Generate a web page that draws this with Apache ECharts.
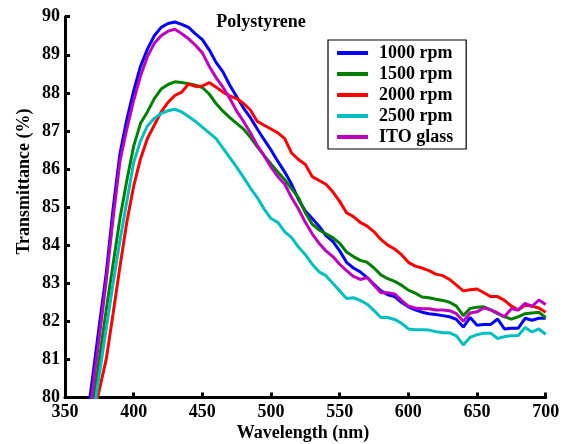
<!DOCTYPE html>
<html>
<head>
<meta charset="utf-8">
<script src="https://cdn.jsdelivr.net/npm/echarts@6/dist/echarts.min.js"></script>
<style>
html,body{margin:0;padding:0;background:#fff;}
#c{width:565px;height:444px;}
</style>
</head>
<body>
<div id="c"></div>
<script>
var wavelengths = [365,370,375,380,385,390,395,400,405,410,415,420,425,430,435,440,445,450,455,460,465,470,475,480,485,490,495,500,505,510,515,520,525,530,535,540,545,550,555,560,565,570,575,580,585,590,595,600,605,610,615,620,625,630,635,640,645,650,655,660,665,670,675,680,685,690,695,700];
var seriesNames = ['1000 rpm','1500 rpm','2000 rpm','2500 rpm','ITO glass'];
var rpm1000 = [79.15,80.5,81.9,83.25,84.95,86.4,87.3,88.05,88.7,89.15,89.5,89.72,89.82,89.86,89.8,89.72,89.55,89.4,89.13,88.8,88.55,88.2,87.9,87.6,87.35,87.05,86.77,86.5,86.2,85.92,85.6,85.2,84.9,84.7,84.5,84.25,84.1,83.85,83.55,83.4,83.3,83.15,82.97,82.8,82.7,82.65,82.5,82.38,82.3,82.24,82.2,82.18,82.15,82.12,82.05,81.85,82.1,81.9,81.92,81.92,82.06,81.8,81.82,81.82,82.08,82.03,82.08,82.08];
var rpm1500 = [78.5,79.7,81.0,82.3,83.5,84.7,85.7,86.6,87.2,87.5,87.85,88.1,88.22,88.29,88.27,88.24,88.2,88.14,87.97,87.72,87.52,87.35,87.2,87.05,86.83,86.58,86.35,86.13,85.92,85.72,85.48,85.25,84.85,84.55,84.4,84.3,84.2,84.05,83.82,83.7,83.6,83.55,83.4,83.22,83.12,83.05,82.95,82.82,82.74,82.64,82.62,82.58,82.55,82.5,82.4,82.15,82.34,82.37,82.38,82.3,82.2,82.12,82.06,82.12,82.2,82.22,82.24,82.1];
var rpm2000 = [78.7,79.45,80.2,81.0,82.2,83.43,84.6,85.55,86.27,86.8,87.15,87.5,87.75,87.93,88.02,88.23,88.17,88.18,88.27,88.15,88.02,87.92,87.85,87.72,87.55,87.25,87.15,87.05,86.95,86.8,86.42,86.25,86.12,85.8,85.7,85.6,85.4,85.15,84.85,84.75,84.6,84.5,84.35,84.15,84.0,83.9,83.75,83.55,83.45,83.4,83.33,83.24,83.2,83.1,82.95,82.8,82.83,82.85,82.75,82.65,82.65,82.55,82.4,82.3,82.42,82.4,82.35,82.24];
var rpm2500 = [78.2,79.4,80.6,81.8,83.0,84.12,85.15,86.17,86.74,87.13,87.33,87.46,87.53,87.57,87.5,87.38,87.25,87.1,86.95,86.8,86.55,86.3,86.05,85.78,85.5,85.25,84.95,84.7,84.6,84.35,84.2,83.95,83.75,83.5,83.3,83.2,83.0,82.8,82.6,82.62,82.55,82.45,82.28,82.1,82.1,82.05,81.95,81.8,81.78,81.78,81.77,81.73,81.7,81.7,81.62,81.38,81.58,81.65,81.69,81.69,81.55,81.6,81.62,81.63,81.84,81.72,81.8,81.66];
var itoGlass = [78.7,80.17,81.6,83.05,84.7,86.2,87.05,87.8,88.45,88.95,89.3,89.5,89.62,89.67,89.55,89.42,89.25,89.05,88.7,88.4,88.15,87.85,87.52,87.25,86.95,86.62,86.35,86.05,85.8,85.6,85.25,84.95,84.6,84.3,84.05,83.85,83.7,83.5,83.33,83.18,83.1,83.15,82.95,82.75,82.75,82.72,82.55,82.4,82.35,82.33,82.33,82.3,82.3,82.28,82.2,82.0,82.22,82.25,82.35,82.3,82.22,82.12,82.33,82.3,82.47,82.39,82.56,82.44];
var xTicks = [350,400,450,500,550,600,650,700];
var yTicks = [80,81,82,83,84,85,86,87,88,89,90];

var colors = ['#0000ff','#008000','#ff0000','#00bfbf','#bf00bf'];
var valueLists = [rpm1000, rpm1500, rpm2000, rpm2500, itoGlass];
var FONT = '"Liberation Serif", "Times New Roman", serif';

function pairs(vals){ return wavelengths.map(function(w,i){ return [w, vals[i]]; }); }

var chart = echarts.init(document.getElementById('c'), null, {renderer:'canvas'});
chart.setOption({
  animation:false,
  backgroundColor:'#fff',
  grid:{left:65, right:19.3, top:16.7, bottom:46.5, containLabel:false},
  xAxis:{
    type:'value', min:xTicks[0], max:xTicks[xTicks.length-1], interval:50,
    axisLine:{show:true, onZero:false, lineStyle:{color:'#000', width:3}},
    axisTick:{show:true, inside:true, length:5, lineStyle:{color:'#000', width:3}},
    axisLabel:{color:'#000', fontFamily:FONT, fontWeight:'bold', fontSize:18, margin:6},
    splitLine:{show:false}
  },
  yAxis:{
    type:'value', min:yTicks[0], max:yTicks[yTicks.length-1], interval:1,
    axisLine:{show:true, onZero:false, lineStyle:{color:'#000', width:3}},
    axisTick:{show:true, inside:true, length:5, lineStyle:{color:'#000', width:3}},
    axisLabel:{color:'#000', fontFamily:FONT, fontWeight:'bold', fontSize:18, margin:5},
    splitLine:{show:false}
  },
  legend:{
    orient:'vertical', left:328, top:40,
    data:seriesNames,
    icon:'rect', itemWidth:31, itemHeight:4, itemGap:3,
    padding:[4,13,3,9],
    borderColor:'#000', borderWidth:1.2, backgroundColor:'#fff',
    textStyle:{color:'#000', fontFamily:FONT, fontWeight:'bold', fontSize:18, padding:[0,0,0,6]}
  },
  graphic:[
    {type:'text', style:{text:'Polystyrene', x:261, y:22, textAlign:'center', textVerticalAlign:'middle', fontFamily:FONT, fontWeight:'bold', fontSize:18, fill:'#000'}},
    {type:'text', style:{text:'Wavelength (nm)', x:303, y:433.5, textAlign:'center', textVerticalAlign:'middle', fontFamily:FONT, fontWeight:'bold', fontSize:18, fill:'#000'}},
    {type:'text', x:24.5, y:181.5, rotation:Math.PI/2, style:{text:'Transmittance (%)', x:0, y:0, textAlign:'center', textVerticalAlign:'middle', fontFamily:FONT, fontWeight:'bold', fontSize:18, fill:'#000'}}
  ],
  series: seriesNames.map(function(n,i){
    return {
      name:n, type:'line', data:pairs(valueLists[i]), symbol:'none', smooth:false, clip:true,
      lineStyle:{color:colors[i], width:3}, itemStyle:{color:colors[i]}
    };
  })
});
</script>
</body>
</html>
